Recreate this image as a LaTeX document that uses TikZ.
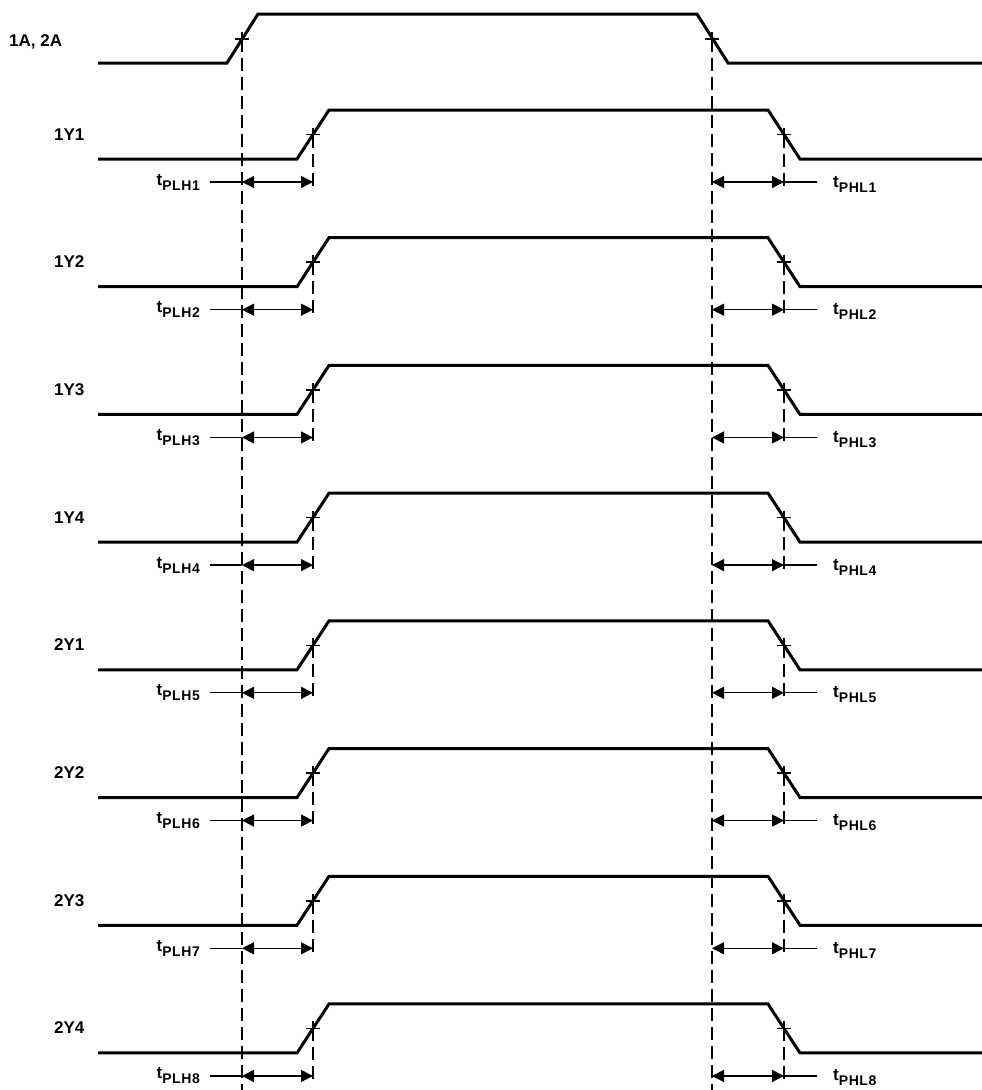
\documentclass[tikz,border=0pt]{standalone}
\usepackage{fontspec}
\setmainfont{Liberation Sans}
\usetikzlibrary{arrows.meta}
\newcommand{\subtxt}[1]{\raisebox{-5pt}{\fontsize{14}{14}\selectfont\addfontfeature{LetterSpace=4}#1}}
\begin{document}
\begin{tikzpicture}[x=1pt,y=-1pt,
  sig/.style={line width=3pt, line join=miter},
  dashv/.style={line width=1.4pt, dash pattern=on 13pt off 6pt},
  meas/.style={line width=1.3pt, {Triangle[length=12pt,width=12pt]}-{Triangle[length=12pt,width=12pt]}},
  ext/.style={line width=1.3pt},
  tick/.style={line width=1.5pt},
  lbl/.style={font=\fontsize{17}{17}\selectfont\bfseries, inner sep=0pt},
  tlbl/.style={font=\fontsize{17}{17}\selectfont\bfseries, inner sep=0pt}
]
\useasboundingbox (0,0) rectangle (982,1090);
\fill[white] (0,0) rectangle (982,1090);

% input signal
\node[lbl, anchor=base west] (lin) at (9,46) {1A, 2A};
\draw[sig] (98,63) -- (227,63) -- (258,14) -- (697,14) -- (728,63) -- (982,63);
\coordinate (inR) at (242,39);
\coordinate (inF) at (712,39);
\coordinate (botL) at (242,1090);
\coordinate (botR) at (712,1090);
\draw[tick] ([xshift=-7pt]inR) -- ([xshift=7pt]inR) ([yshift=-7pt]inR) -- ([yshift=7pt]inR);
\draw[tick] ([xshift=-7pt]inF) -- ([xshift=7pt]inF) ([yshift=-7pt]inF) -- ([yshift=7pt]inF);
\draw[dashv] (inR) -- (botL);
\draw[dashv] (inF) -- (botR);

\foreach \i/\nm in {0/1Y1,1/1Y2,2/1Y3,3/1Y4,4/2Y1,5/2Y2,6/2Y3,7/2Y4}{
  \pgfmathsetmacro{\yL}{159+\i*127.71}
  \pgfmathsetmacro{\yH}{\yL-49}
  \pgfmathsetmacro{\yM}{\yL-24.5}
  \pgfmathsetmacro{\yA}{\yL+23}
  \pgfmathtruncatemacro{\n}{\i+1}
  \node[lbl, anchor=base west] (lab\i) at (54,\yL-19) {\nm};
  \draw[sig] (98,\yL) -- (297,\yL) -- (329,\yH) -- (768,\yH) -- (800,\yL) -- (982,\yL);
  \coordinate (pr\i) at (313,\yM);
  \coordinate (pf\i) at (784,\yM);
  \draw[tick] ([xshift=-7pt]pr\i) -- ([xshift=7pt]pr\i) ([yshift=-7pt]pr\i) -- ([yshift=7pt]pr\i);
  \draw[tick] ([xshift=-7pt]pf\i) -- ([xshift=7pt]pf\i) ([yshift=-7pt]pf\i) -- ([yshift=7pt]pf\i);
  \coordinate (al\i) at (242,\yA);
  \coordinate (ar\i) at (313,\yA);
  \coordinate (bl\i) at (712,\yA);
  \coordinate (br\i) at (784,\yA);
  \coordinate (el\i) at (210,\yA);
  \coordinate (er\i) at (817,\yA);
  \coordinate (dr\i) at (313,\yA+7);
  \coordinate (df\i) at (784,\yA+7);
  \draw[dashv] (pr\i) -- (dr\i);
  \draw[dashv] (pf\i) -- (df\i);
  \draw[meas] (al\i) -- (ar\i);
  \draw[meas] (bl\i) -- (br\i);
  \draw[ext] (el\i) -- (al\i);
  \draw[ext] (br\i) -- (er\i);
  \node[tlbl, anchor=base east] (tl\i) at (200,\yA+3) {t\subtxt{PLH\n}};
  \node[tlbl, anchor=base west] (tr\i) at (833,\yA+5) {t\subtxt{PHL\n}};
}
\end{tikzpicture}
\end{document}
